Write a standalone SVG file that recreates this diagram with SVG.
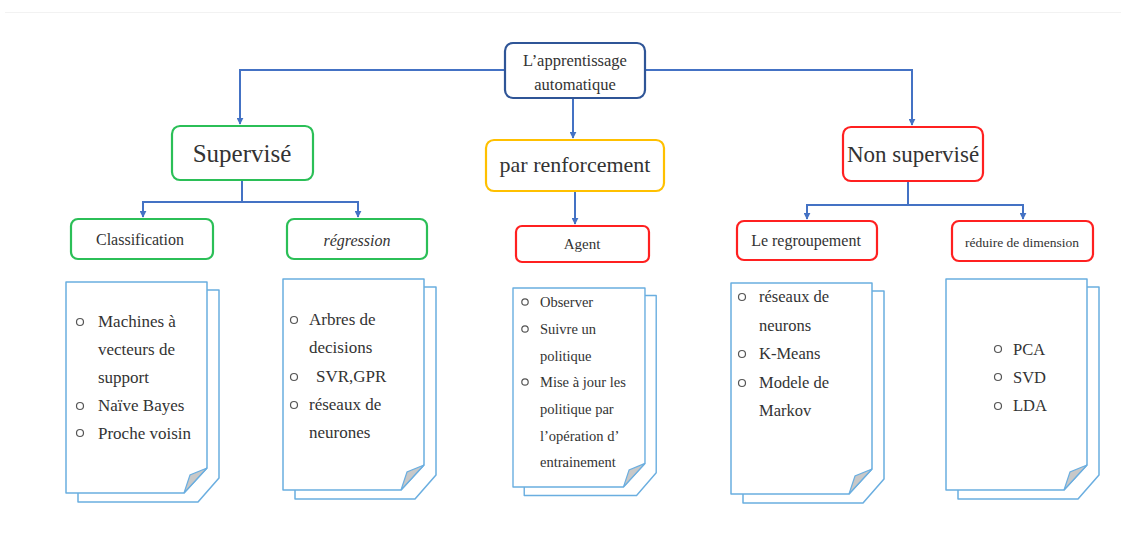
<svg xmlns="http://www.w3.org/2000/svg" width="1121" height="540" viewBox="0 0 1121 540">
  <style>
    .bg { fill: #ffffff; }
    .box { fill: #ffffff; stroke-width: 2.2; }
    .root { stroke: #2f5597; }
    .green { stroke: #2bbf57; }
    .yellow { stroke: #ffc000; }
    .red { stroke: #ff2020; }
    .wire { fill: none; stroke: #4472c4; stroke-width: 2; }
    .sheet { fill: #ffffff; stroke: #6aaee0; stroke-width: 1.5; stroke-linejoin: round; }
    .fold { fill: #c8c8c8; stroke: #6aaee0; stroke-width: 1.2; }
    .t { font-family: "Liberation Serif", "DejaVu Serif", serif; fill: #333333; }
    .bul { fill: none; stroke: #555555; stroke-width: 1.2; }
  </style>
  <defs>
    <marker id="arr" viewBox="0 0 10 10" refX="9" refY="5" markerWidth="7" markerHeight="7" markerUnits="userSpaceOnUse" orient="auto">
      <path d="M0,0 L10,5 L0,10 z" fill="#4472c4"/>
    </marker>
    <!-- stacked document shape: back sheet, front sheet with folded corner -->
    <g id="docs">
      <path class="sheet" d="M12,8 L153,8 L153,196 L132,220 L12,220 Z"/>
      <path class="sheet" d="M0,0 L141,0 L141,186 L118,211 L0,211 Z"/>
      <path class="fold" d="M118,211 L124,193 L141,186 Z"/>
    </g>
  </defs>

  <rect class="bg" x="0" y="0" width="1121" height="540"/>
  <line x1="5" y1="12.5" x2="1121" y2="12.5" stroke="#f2f2f2" stroke-width="1"/>

  <!-- connectors -->
  <g id="connectors">
    <path class="wire" d="M505,70 L240,70 L240,124" marker-end="url(#arr)"/>
    <path class="wire" d="M645,70 L912,70 L912,125" marker-end="url(#arr)"/>
    <path class="wire" d="M573,98 L573,138" marker-end="url(#arr)"/>
    <path class="wire" d="M242,180 L242,202 L143,202 L143,217" marker-end="url(#arr)"/>
    <path class="wire" d="M242,202 L358,202 L358,217" marker-end="url(#arr)"/>
    <path class="wire" d="M575,191 L575,224" marker-end="url(#arr)"/>
    <path class="wire" d="M908,181 L908,205 L807,205 L807,219" marker-end="url(#arr)"/>
    <path class="wire" d="M908,205 L1023,205 L1023,219" marker-end="url(#arr)"/>
  </g>

  <!-- root -->
  <g id="root">
    <rect class="box root" x="505" y="43" width="140" height="55" rx="8"/>
    <text class="t" x="575" y="66" font-size="16.5" text-anchor="middle">L’apprentissage</text>
    <text class="t" x="575" y="90" font-size="16.5" text-anchor="middle">automatique</text>
  </g>

  <!-- supervised branch -->
  <g id="supervise">
    <rect class="box green" x="172" y="126" width="141" height="54" rx="8"/>
    <text class="t" x="242" y="162" font-size="25" text-anchor="middle" fill="#222">Supervisé</text>
  </g>
  <g id="classification">
    <rect class="box green" x="71" y="219" width="142" height="40" rx="7"/>
    <text class="t" x="140" y="245" font-size="16" text-anchor="middle">Classification</text>
  </g>
  <g id="regression">
    <rect class="box green" x="287" y="219" width="140" height="40" rx="7"/>
    <text class="t" x="357" y="246" font-size="16" font-style="italic" text-anchor="middle">régression</text>
  </g>
  <g id="doc-classification">
    <use href="#docs" x="66" y="282"/>
    <circle class="bul" cx="80" cy="322" r="3.5"/>
    <circle class="bul" cx="80" cy="406" r="3.5"/>
    <circle class="bul" cx="80" cy="433" r="3.5"/>
    <text class="t" font-size="17">
      <tspan x="98" y="327">Machines à</tspan>
      <tspan x="98" y="355">vecteurs de</tspan>
      <tspan x="98" y="383">support</tspan>
      <tspan x="98" y="411">Naïve Bayes</tspan>
      <tspan x="98" y="439">Proche voisin</tspan>
    </text>
  </g>
  <g id="doc-regression">
    <use href="#docs" x="283" y="279"/>
    <circle class="bul" cx="294" cy="320" r="3.5"/>
    <circle class="bul" cx="294" cy="377" r="3.5"/>
    <circle class="bul" cx="294" cy="405" r="3.5"/>
    <text class="t" font-size="17">
      <tspan x="309" y="325">Arbres de</tspan>
      <tspan x="309" y="353">decisions</tspan>
      <tspan x="316" y="382">SVR,GPR</tspan>
      <tspan x="309" y="410">réseaux de</tspan>
      <tspan x="309" y="438">neurones</tspan>
    </text>
  </g>

  <!-- reinforcement branch -->
  <g id="renforcement">
    <rect class="box yellow" x="486" y="140" width="178" height="51" rx="8"/>
    <text class="t" x="575" y="172" font-size="22" text-anchor="middle" fill="#222">par renforcement</text>
  </g>
  <g id="agent">
    <rect class="box red" x="516" y="226" width="133" height="36" rx="6"/>
    <text class="t" x="582" y="249" font-size="15" text-anchor="middle">Agent</text>
  </g>
  <g id="doc-agent">
    <use href="#docs" x="513" y="288" transform="translate(513 288) scale(0.936 0.943) translate(-513 -288)"/>
    <circle class="bul" cx="525" cy="302" r="3.2"/>
    <circle class="bul" cx="525" cy="329" r="3.2"/>
    <circle class="bul" cx="525" cy="382" r="3.2"/>
    <text class="t" font-size="14.5">
      <tspan x="540" y="307">Observer</tspan>
      <tspan x="540" y="334">Suivre un</tspan>
      <tspan x="540" y="361">politique</tspan>
      <tspan x="540" y="387">Mise à jour les</tspan>
      <tspan x="540" y="414">politique par</tspan>
      <tspan x="540" y="441">l’opération d’</tspan>
      <tspan x="540" y="467">entrainement</tspan>
    </text>
  </g>

  <!-- unsupervised branch -->
  <g id="non-supervise">
    <rect class="box red" x="843" y="127" width="140" height="54" rx="8"/>
    <text class="t" x="913" y="162" font-size="23" text-anchor="middle" fill="#222">Non supervisé</text>
  </g>
  <g id="regroupement">
    <rect class="box red" x="737" y="221" width="140" height="39" rx="7"/>
    <text class="t" x="806" y="246" font-size="16" text-anchor="middle">Le regroupement</text>
  </g>
  <g id="reduction">
    <rect class="box red" x="952" y="221" width="141" height="40" rx="7"/>
    <text class="t" x="1022" y="247" font-size="13.5" text-anchor="middle">réduire de dimension</text>
  </g>
  <g id="doc-regroupement">
    <use href="#docs" x="731" y="283"/>
    <circle class="bul" cx="742" cy="297" r="3.5"/>
    <circle class="bul" cx="742" cy="354" r="3.5"/>
    <circle class="bul" cx="742" cy="383" r="3.5"/>
    <text class="t" font-size="16.5">
      <tspan x="759" y="302">réseaux de</tspan>
      <tspan x="759" y="331">neurons</tspan>
      <tspan x="759" y="359">K-Means</tspan>
      <tspan x="759" y="388">Modele de</tspan>
      <tspan x="759" y="416">Markov</tspan>
    </text>
  </g>
  <g id="doc-reduction">
    <use href="#docs" x="946" y="279"/>
    <circle class="bul" cx="998" cy="349" r="3.5"/>
    <circle class="bul" cx="998" cy="377" r="3.5"/>
    <circle class="bul" cx="998" cy="406" r="3.5"/>
    <text class="t" font-size="16.5">
      <tspan x="1013" y="355">PCA</tspan>
      <tspan x="1013" y="383">SVD</tspan>
      <tspan x="1013" y="411">LDA</tspan>
    </text>
  </g>
</svg>
